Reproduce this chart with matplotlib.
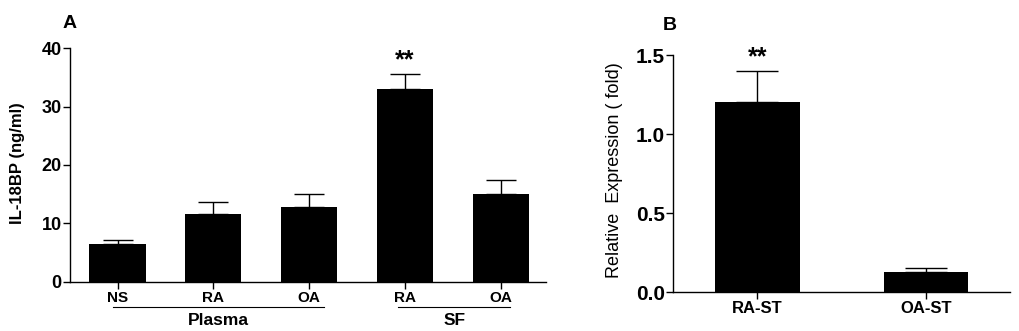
import numpy as np
import matplotlib
matplotlib.use("Agg")
import matplotlib.pyplot as plt
import matplotlib.transforms as mtransforms

plt.rcParams['font.family'] = ['Liberation Sans', 'DejaVu Sans']

# panel A data
a_labels = ["NS", "RA", "OA", "RA", "OA"]
a_means = [6.5, 11.55, 12.8, 33.0, 15.0]
a_errs = [0.7, 2.15, 2.3, 2.6, 2.4]
a_groups = ["Plasma", "SF"]
a_sig = [False, False, False, True, False]

# panel B data
b_labels = ["RA-ST", "OA-ST"]
b_means = [1.20, 0.126]
b_errs = [0.20, 0.026]
b_sig = [True, False]

W, H = 1020, 331
fig = plt.figure(figsize=(W / 100, H / 100), dpi=100)


def px_axes(l, t, r, b):
    return fig.add_axes([l / W, 1 - b / H, (r - l) / W, (b - t) / H])


def style(ax, ysize, xsize):
    for s in ["top", "right"]:
        ax.spines[s].set_visible(False)
    for s in ["left", "bottom"]:
        ax.spines[s].set_linewidth(1.0)
    ax.tick_params(axis="y", length=5, width=1.0, labelsize=ysize, pad=1)
    ax.tick_params(axis="x", length=5, width=1.0, labelsize=xsize, pad=1.5)
    for t in ax.get_yticklabels() + ax.get_xticklabels():
        t.set_fontweight("bold")


# ---- Panel A
axA = px_axes(70, 48.3, 545.7, 281.7)
xa = np.arange(len(a_means))
axA.bar(xa, a_means, width=0.585, color="black", zorder=2)
axA.errorbar(xa, a_means, yerr=[np.zeros(len(a_errs)), a_errs], fmt="none",
             ecolor="black", elinewidth=1.0, capsize=10.5, capthick=1.0, zorder=1)
axA.set_xlim(-0.496, 4.47)
axA.set_ylim(0, 40)
axA.set_yticks([0, 10, 20, 30, 40])
axA.set_xticks(xa)
axA.set_xticklabels(a_labels)
style(axA, 13, 11)
fig.text(18 / W, 1 - 163 / H, "IL-18BP (ng/ml)", rotation=90, fontsize=12,
         fontweight="bold", ha="center", va="center")
for i, s in enumerate(a_sig):
    if s:
        axA.annotate("**", (xa[i], a_means[i] + a_errs[i]), xytext=(0, 1),
                     textcoords="offset points", ha="center", va="bottom",
                     fontsize=18, fontweight="bold")
trA = mtransforms.blended_transform_factory(axA.transData, axA.transAxes)
spans = [(-0.05, 2.16), (2.93, 4.10)]
for (x0, x1), g in zip(spans, a_groups):
    axA.plot([x0, x1], [-0.11, -0.11], color="black", lw=0.8,
             transform=trA, clip_on=False)
    axA.text((x0 + x1) / 2, -0.165, g, transform=trA, ha="center", va="center",
             fontsize=12.5, fontweight="bold")
fig.text(70 / W, 1 - 23 / H, "A", fontsize=14, fontweight="bold",
         ha="center", va="center")

# ---- Panel B
axB = px_axes(673.3, 55, 1010, 292.3)
xb = np.arange(len(b_means))
axB.bar(xb, b_means, width=0.5, color="black", zorder=2)
axB.errorbar(xb, b_means, yerr=[np.zeros(len(b_errs)), b_errs], fmt="none",
             ecolor="black", elinewidth=1.0, capsize=15, capthick=1.0, zorder=1)
axB.set_xlim(-0.5, 1.5)
axB.set_ylim(0, 1.5)
axB.set_yticks([0, 0.5, 1.0, 1.5])
axB.set_yticklabels(["0.0", "0.5", "1.0", "1.5"])
axB.set_xticks(xb)
axB.set_xticklabels(b_labels)
style(axB, 15, 12)
fig.text(615 / W, 1 - 170 / H, "Relative  Expression ( fold)", rotation=90,
         fontsize=13, ha="center", va="center")
for i, s in enumerate(b_sig):
    if s:
        axB.annotate("**", (xb[i], b_means[i] + b_errs[i]), xytext=(0, 1),
                     textcoords="offset points", ha="center", va="bottom",
                     fontsize=18, fontweight="bold")
fig.text(670 / W, 1 - 25 / H, "B", fontsize=14, fontweight="bold",
         ha="center", va="center")

fig.savefig("out.png", dpi=100)
